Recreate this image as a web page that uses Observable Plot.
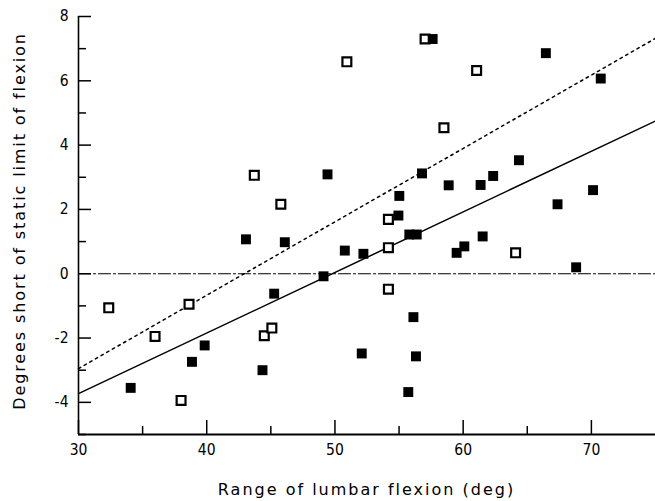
<!DOCTYPE html>
<html>
<head>
<meta charset="utf-8">
<script src="https://cdn.jsdelivr.net/npm/d3@7"></script>
<script src="https://cdn.jsdelivr.net/npm/@observablehq/plot@0.6"></script>
</head>
<body style="margin:0;background:#fff">
<div id="chart"></div>
<script>
// Filled squares
const filledX = [49.42, 57.62, 66.45, 70.73, 64.35, 56.79, 62.34, 58.87, 61.36, 55.02, 70.13, 67.36, 54.95, 55.80, 56.38, 52.22, 59.49, 60.09, 61.52, 68.81, 56.12, 52.09, 56.32, 55.72, 43.06, 46.09, 50.77, 49.11, 45.26, 39.84, 38.85, 44.35, 34.07];
const filledY = [3.09, 7.30, 6.86, 6.07, 3.53, 3.12, 3.04, 2.75, 2.76, 2.42, 2.60, 2.16, 1.81, 1.22, 1.22, 0.62, 0.65, 0.85, 1.16, 0.20, -1.35, -2.48, -2.57, -3.68, 1.07, 0.98, 0.72, -0.08, -0.62, -2.23, -2.74, -3.00, -3.55];
// Open squares
const openX = [50.93, 43.71, 45.78, 57.03, 61.05, 58.50, 54.17, 54.17, 64.09, 54.17, 32.36, 38.62, 35.97, 44.49, 45.08, 38.00];
const openY = [6.59, 3.06, 2.16, 7.30, 6.32, 4.54, 1.69, 0.81, 0.65, -0.48, -1.06, -0.95, -1.95, -1.93, -1.69, -3.94];
// Lines
const lineX = [30, 75];
const solidY = [-3.73, 4.75];
const dottedY = [-2.95, 7.32];
const zeroY = [0, 0];
// Ticks
const xMajor = [30, 40, 50, 60, 70];
const xMinor = [35, 45, 55, 65];
const yMajor = [-4, -2, 0, 2, 4, 6, 8];
const yMinor = [-5, -3, -1, 1, 3, 5, 7];
const xTitle = "Range of lumbar flexion (deg)";
const yTitle = "Degrees short of static limit of flexion";

const filledPts = filledX.map((x, i) => ({x, y: filledY[i]}));
const openPts = openX.map((x, i) => ({x, y: openY[i]}));
const mkLine = (ys) => lineX.map((x, i) => ({x, y: ys[i]}));
const fmt = d => d < 0 ? "-" + Math.abs(d) : String(d);
const tickFont = "DejaVu Sans Condensed";

const W = 655, H = 501, ML = 78, MR = 0, MT = 16, MB = 67;
const plotW = W - ML - MR, plotH = H - MT - MB;

const plot = Plot.plot({
  width: W,
  height: H,
  marginLeft: ML,
  marginRight: MR,
  marginTop: MT,
  marginBottom: MB,
  style: {fontSize: "15px", color: "#000", background: "#fff"},
  x: {domain: [30, 75]},
  y: {domain: [-5, 8]},
  marks: [
    // inward ticks
    Plot.ruleY(yMajor, {stroke: "#000", strokeWidth: 1.5, insetRight: plotW - 13}),
    Plot.ruleY(yMinor, {stroke: "#000", strokeWidth: 1.5, insetRight: plotW - 8}),
    Plot.ruleX(xMajor, {stroke: "#000", strokeWidth: 1.5, insetTop: plotH - 14}),
    Plot.ruleX(xMinor, {stroke: "#000", strokeWidth: 1.5, insetTop: plotH - 8}),
    // axis lines
    Plot.ruleX([30], {stroke: "#000", strokeWidth: 1.6}),
    Plot.ruleY([-5], {stroke: "#000", strokeWidth: 1.8}),
    Plot.axisY({ticks: yMajor, tickSize: 0, tickPadding: 10, tickFormat: fmt, label: null, fontSize: 15.5, fontFamily: tickFont}),
    Plot.axisX({ticks: xMajor, tickSize: 0, tickPadding: 9, tickFormat: fmt, label: null, fontSize: 15.5, fontFamily: tickFont}),
    Plot.line(mkLine(zeroY), {x: "x", y: "y", stroke: "#000", strokeWidth: 1.2, strokeDasharray: "12,3,2,3"}),
    Plot.line(mkLine(dottedY), {x: "x", y: "y", stroke: "#000", strokeWidth: 1.5, strokeDasharray: "2.5,4"}),
    Plot.line(mkLine(solidY), {x: "x", y: "y", stroke: "#000", strokeWidth: 1.5}),
    Plot.dot(openPts, {x: "x", y: "y", symbol: "square", r: 5, fill: "#fff", stroke: "#000", strokeWidth: 2.2}),
    Plot.dot(filledPts, {x: "x", y: "y", symbol: "square", r: 5.6, fill: "#000"})
  ]
});

const svg = d3.select(plot);
// Axis titles
svg.append("text")
  .attr("x", 366.5).attr("y", 495)
  .attr("text-anchor", "middle")
  .style("font-family", "'DejaVu Sans', sans-serif").style("font-size", "16px").style("letter-spacing", "2px")
  .attr("fill", "#000")
  .text(xTitle);
svg.append("text")
  .attr("transform", "translate(25,221) rotate(-90)")
  .attr("text-anchor", "middle")
  .style("font-family", "'DejaVu Sans', sans-serif").style("font-size", "16px").style("letter-spacing", "1.9px")
  .attr("fill", "#000")
  .text(yTitle);

document.getElementById("chart").appendChild(plot);
</script>
</body>
</html>
